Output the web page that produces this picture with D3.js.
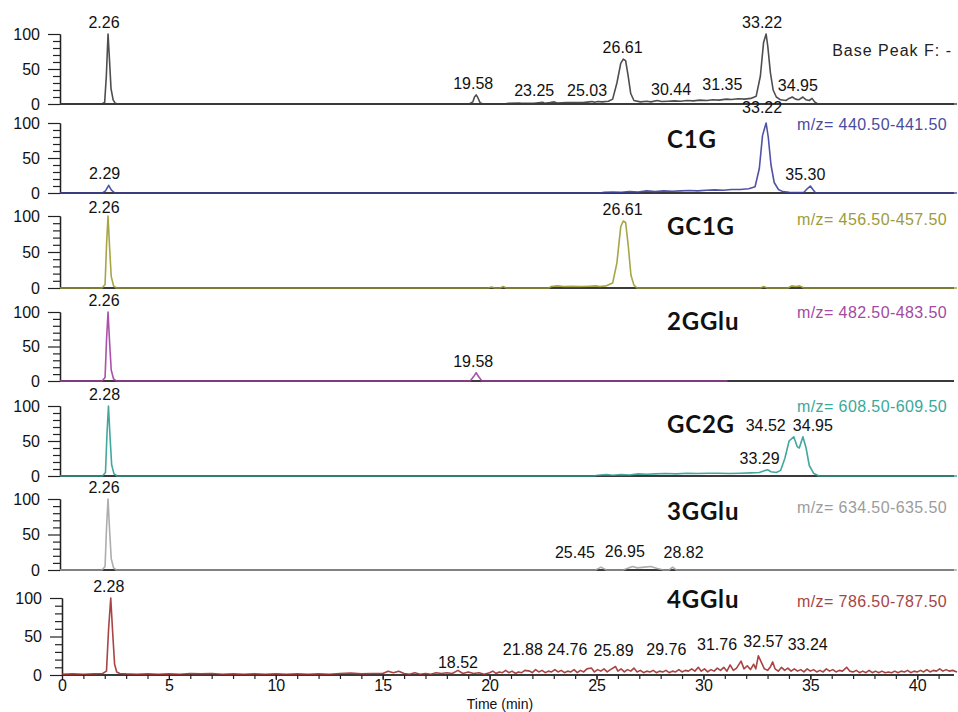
<!DOCTYPE html>
<html>
<head>
<meta charset="utf-8">
<script src="https://cdn.jsdelivr.net/npm/d3@7"></script>
<style>
  html, body { margin: 0; padding: 0; background: #fff; }
  svg { display: block; }
</style>
</head>
<body>
<svg id="chart" width="958" height="712"></svg>
<script>
// ---------- data: ion chromatograms, relative abundance (%) vs time (min) ----------
const traceNames = ["Base Peak", "C1G", "GC1G", "2GGlu", "GC2G", "3GGlu", "4GGlu"];
const compoundLabels = ["", "C1G", "GC1G", "2GGlu", "GC2G", "3GGlu", "4GGlu"];
const mzLabels = ["Base Peak F: -", "m/z= 440.50-441.50", "m/z= 456.50-457.50", "m/z= 482.50-483.50",
                  "m/z= 608.50-609.50", "m/z= 634.50-635.50", "m/z= 786.50-787.50"];
const timeWindowEnd = [42.2, 42.2, 42.2, 42.2, 42.2, 42.2, 41.86];
const xTickValues = [0, 5, 10, 15, 20, 25, 30, 35, 40];
const yTickValues = [0, 50, 100];
const xAxisTitle = "Time (min)";

const basePeak = [
  [0,0],[1.95,0],[2.1,2],[2.18,40],[2.26,100],[2.33,62],[2.4,22],[2.5,6],[2.6,1],[2.75,0],
  [19.25,0],[19.42,3],[19.5,10],[19.58,13],[19.66,9],[19.76,2],[19.9,0],
  [20.9,0],[21.1,1],[21.6,1.5],[21.7,1],[22.3,1],[22.7,2.5],[22.8,1],[23.05,2],[23.25,3],[23.4,1.5],
  [23.8,2],[24.2,2],[24.6,2],[24.9,3],[25.03,3.5],[25.15,2.5],[25.3,3.5],[25.5,3],[25.8,4],
  [26.0,7],[26.2,30],[26.38,58],[26.5,64],[26.61,62],[26.72,42],[26.85,15],[27.0,5],
  [27.3,3],[27.6,4],[27.8,3],[28.1,5],[28.3,3.5],[28.6,4],[28.9,4.5],[29.2,4],[29.5,5],
  [29.8,4.5],[30.1,5.5],[30.44,5],[30.7,6],[31.0,5.5],[31.35,7],[31.6,6.5],[31.9,7.5],[32.2,7],
  [32.5,8],[32.75,11],[32.95,40],[33.1,88],[33.22,100],[33.3,82],[33.42,45],[33.55,20],
  [33.7,10],[33.9,6],[34.15,5],[34.3,8],[34.45,10],[34.6,7],[34.75,6],[34.95,10],[35.1,6],
  [35.25,5],[35.38,8],[35.5,3],[35.65,0],[42.2,0]
];
const c1g = [
  [0,0],[2.0,0],[2.14,3],[2.29,11],[2.42,4],[2.58,0],
  [25.4,0],[25.6,1],[26.0,1.5],[26.4,1],[26.8,2],[27.2,1.5],[27.6,3],[28.0,2],[28.4,3],
  [28.8,2.5],[29.2,3],[29.6,3.5],[30.0,3],[30.4,4],[30.8,4.5],[31.2,4],[31.6,5],[32.0,5],
  [32.4,6],[32.7,9],[32.9,35],[33.05,82],[33.22,100],[33.32,80],[33.45,40],[33.6,15],
  [33.8,5],[34.0,2],[34.3,1],[34.7,0.5],[35.0,1],[35.15,6],[35.3,10],[35.42,5],[35.55,0],[42.2,0]
];
const gc1g = [
  [0,0],[1.98,0],[2.12,5],[2.19,60],[2.26,100],[2.33,58],[2.41,16],[2.52,3],[2.65,0],
  [20.15,0],[20.3,1.5],[20.45,0],[20.7,0],[20.85,2],[21.0,0],
  [23.0,0],[23.1,2],[23.4,3],[23.7,2],[24.1,2.5],[24.5,2],[24.9,2.5],[25.2,3],[25.4,2],
  [25.7,3],[26.0,7],[26.2,35],[26.38,85],[26.5,93],[26.61,91],[26.73,60],[26.86,18],
  [27.0,4],[27.15,0],[32.95,0],[33.1,2],[33.28,0],[34.25,0],[34.42,3],[34.62,2],[34.8,3],
  [35.0,0],[42.2,0]
];
const gglu2 = [
  [0,0],[1.98,0],[2.12,5],[2.19,60],[2.26,100],[2.33,58],[2.41,16],[2.52,3],[2.65,0],
  [19.3,0],[19.45,6],[19.58,12],[19.7,6],[19.85,0],[31.4,0]
];
const gc2g = [
  [0,0],[2.0,0],[2.14,5],[2.21,60],[2.28,100],[2.35,58],[2.43,16],[2.54,3],[2.68,0],
  [25.1,0],[25.3,1],[25.7,2],[26.0,1],[26.4,2],[26.8,1.5],[27.2,3],[27.6,2.5],[28.0,3],
  [28.5,3.5],[29.0,3],[29.5,4],[30.0,3.5],[30.5,4],[31.0,4],[31.5,3.5],[32.0,4],[32.5,4.5],
  [32.9,5],[33.1,7],[33.29,9],[33.45,6],[33.7,5],[33.9,8],[34.1,25],[34.3,50],[34.52,56],
  [34.68,42],[34.78,40],[34.95,56],[35.1,40],[35.25,15],[35.45,4],[35.7,0],[42.2,0]
];
const gglu3 = [
  [0,0],[1.98,0],[2.12,5],[2.19,60],[2.26,100],[2.33,58],[2.41,16],[2.52,3],[2.65,0],
  [25.2,0],[25.45,4],[25.7,0],[26.5,0],[26.75,3],[26.95,5],[27.15,3],[27.5,4],[27.8,5],
  [28.1,2],[28.4,0],[28.65,0],[28.82,4],[29.0,0],[42.2,0]
];
const gglu4 = [
  [0,1],[0.5,1.5],[1,1],[1.5,1.5],[1.9,2],[2.08,5],[2.18,60],[2.28,100],[2.37,55],[2.46,14],
  [2.56,4],[2.7,2],[3,1.5],[3.5,1],[4,1.5],[4.5,1],[5,1.5],[5.5,1],[6,2],[6.5,1.5],[7,2],
  [7.5,1],[8,1.5],[8.5,1],[9,1.5],[9.5,1],[10,1.5],[10.5,1],[11,1.5],[11.5,1],[12,1.5],
  [12.5,1],[13,2],[13.5,2.5],[14,1.5],[14.5,2],
  [15.0,2],[15.25,5],[15.5,3],[15.75,5],[16.0,2],[16.25,1],[16.5,3],[16.75,1],[17.0,2],
  [17.25,1],[17.5,3],[17.75,2],[18.0,3],[18.25,2],[18.52,6],[18.75,2],[19.0,4],[19.25,2],
  [19.5,3],[19.75,1],
  [20.0,3],[20.15,5],[20.3,2],[20.45,4],[20.6,3],[20.75,6],[20.9,3],[21.05,5],[21.2,2],
  [21.35,4],[21.5,3],[21.65,6],[21.88,5],[22.0,3],[22.15,7],[22.3,4],[22.45,6],[22.6,3],
  [22.75,5],[22.9,4],[23.05,7],[23.2,4],[23.35,6],[23.5,3],[23.65,5],[23.8,4],[23.95,7],
  [24.1,3],[24.25,6],[24.4,4],[24.55,8],[24.76,9],[24.9,4],[25.05,7],[25.2,5],[25.35,8],
  [25.5,4],[25.65,7],[25.89,11],[26.0,5],[26.15,8],[26.3,4],[26.45,7],[26.6,5],[26.75,9],
  [26.9,4],[27.05,6],[27.2,3],[27.35,5],[27.5,4],[27.65,6],[27.8,3],[27.95,5],[28.1,4],
  [28.25,6],[28.4,3],[28.55,5],[28.7,4],[28.85,7],[29.0,4],[29.15,6],[29.3,5],[29.45,8],
  [29.6,5],[29.76,10],[29.9,5],[30.05,8],[30.2,4],[30.35,7],[30.5,5],[30.65,9],[30.8,6],
  [30.95,10],[31.1,5],[31.25,13],[31.4,6],[31.55,9],[31.76,18],[31.9,8],[32.05,12],[32.2,7],
  [32.35,14],[32.45,8],[32.57,25],[32.7,17],[32.85,8],[33.0,6],[33.12,10],[33.24,17],[33.35,8],
  [33.5,5],[33.65,10],[33.8,6],[33.95,9],[34.1,5],[34.25,8],[34.4,5],[34.55,7],[34.7,4],
  [34.85,8],[35.0,5],[35.15,7],[35.3,4],[35.45,6],[35.6,4],[35.75,8],[35.9,5],[36.05,7],
  [36.2,4],[36.35,6],[36.5,5],[36.7,10],[36.85,5],[37.0,4],[37.15,6],[37.3,3],[37.45,5],
  [37.6,3],[37.75,6],[37.9,3],[38.05,5],[38.2,3],[38.35,5],[38.5,3],[38.65,4],[38.8,3],
  [38.95,5],[39.1,3],[39.25,5],[39.4,4],[39.55,6],[39.7,3],[39.85,5],[40.0,4],[40.15,6],
  [40.3,4],[40.45,7],[40.6,4],[40.75,6],[40.9,5],[41.05,8],[41.2,5],[41.35,7],[41.5,5],
  [41.65,6],[41.86,4]
];
const traces = [basePeak, c1g, gc1g, gglu2, gc2g, gglu3, gglu4];

// retention times written above peaks
const peakTimes = [
  [2.26, 19.58, 23.25, 25.03, 26.61, 30.44, 31.35, 33.22, 34.95],
  [2.29, 33.22, 35.30],
  [2.26, 26.61],
  [2.26, 19.58],
  [2.28, 33.29, 34.52, 34.95],
  [2.26, 25.45, 26.95, 28.82],
  [2.28, 18.52, 21.88, 24.76, 25.89, 29.76, 31.76, 32.57, 33.24]
];

// ---------- layout ----------
const panelZeroY = [104, 193, 288, 381, 476, 570, 675];
const panelFullY = [34, 123, 216, 312, 406, 499, 598];
const panelLeftX = [60, 60, 60, 60, 60, 60, 62];
const plotRightX = 957;
// per-label [dx, dy] offsets keeping neighbouring labels apart
const labelShift = [
  [[-4,0],[-3,0],[-20,0],[-5,0],[-3,0],[-36,0],[-4,-3],[-4,0],[-5,0]],
  [[-4,0],[-4,-4],[-5,0]],
  [[-4,3],[-3,0]],
  [[-4,0],[-3,0]],
  [[-4,0],[-8,0],[-28,0],[10,0]],
  [[-4,0],[-26,-3],[-8,-3],[11,-3]],
  [[-2,0],[0,4],[-7,-10],[-24,-7],[-2,-5],[-32,-6],[-24,-5],[5,-3],[35,-6]]
];
const traceColors = ["#3b3b3b", "#3d3f9c", "#9c9c33", "#a23ea2", "#2f9d93", "#a4a4a4", "#a03030"];
const mzColors = ["#222222", "#4a4c9e", "#9c9c3a", "#a24aa2", "#3aa89c", "#9c9c9c", "#a84444"];

const svg = d3.select("#chart");
const numFont = "'Liberation Sans', Arial, sans-serif";

traces.forEach((trace, i) => {
  const x = d3.scaleLinear().domain([0, timeWindowEnd[i]]).range([panelLeftX[i], plotRightX]);
  const y = d3.scaleLinear().domain([0, 100]).range([panelZeroY[i], panelFullY[i]]);
  const g = svg.append("g");

  // y axis: major ticks 0/50/100, minor every 10
  const yMinor = d3.axisLeft(y).tickValues(d3.range(10, 100, 10).filter(v => v !== 50))
    .tickSize(7).tickSizeOuter(0).tickFormat("");
  const yMajor = d3.axisLeft(y).tickValues(yTickValues).tickSize(12).tickSizeOuter(0).tickPadding(8);
  const ga = g.append("g").attr("transform", `translate(${panelLeftX[i]},0)`);
  ga.call(yMinor);
  ga.append("g").call(yMajor);
  ga.selectAll("path.domain").attr("stroke", "#222").attr("stroke-width", 1.3);
  ga.selectAll("line").attr("stroke", "#222").attr("stroke-width", 1.2);
  ga.selectAll("text").attr("font-family", numFont).attr("font-size", 16).attr("fill", "#111");

  // panel baseline
  g.append("line")
    .attr("x1", panelLeftX[i]).attr("x2", plotRightX - 3)
    .attr("y1", y(0)).attr("y2", y(0))
    .attr("stroke", "#3a3a3a").attr("stroke-width", 2);

  // chromatogram trace
  const line = d3.line().x(d => x(d[0])).y(d => y(d[1]));
  g.append("path").datum(trace)
    .attr("d", line)
    .attr("fill", "none")
    .attr("stroke", traceColors[i])
    .attr("stroke-opacity", 0.9)
    .attr("stroke-width", 1.6)
    .attr("stroke-linejoin", "round");

  // retention-time labels
  peakTimes[i].forEach((t, k) => {
    const near = trace.filter(d => Math.abs(d[0] - t) <= 0.15);
    const top = d3.max(near, d => d[1]) || 0;
    const s = labelShift[i][k];
    g.append("text")
      .attr("x", x(t) + s[0])
      .attr("y", y(top) - 6 + s[1])
      .attr("text-anchor", "middle")
      .attr("font-family", numFont)
      .attr("font-size", 16)
      .attr("fill", "#111")
      .text(t.toFixed(2));
  });

  // m/z range (or trace type) at the right
  g.append("text")
    .attr("x", i === 0 ? 952 : 947)
    .attr("y", [56, 130, 225, 318, 412, 513, 607][i])
    .attr("text-anchor", "end")
    .attr("font-family", numFont)
    .attr("font-size", 16)
    .attr("letter-spacing", i === 0 ? 1 : 0.4)
    .attr("fill", mzColors[i])
    .text(mzLabels[i]);

  // compound name
  if (compoundLabels[i]) {
    g.append("text")
      .attr("x", 667)
      .attr("y", [0, 148, 235, 330, 433, 520, 608][i])
      .attr("font-family", "Lato, 'Open Sans', sans-serif")
      .attr("font-weight", 700)
      .attr("font-size", 24)
      .attr("letter-spacing", 0.8)
      .attr("fill", "#111")
      .text(compoundLabels[i]);
  }

  // shared time axis under the last panel
  if (i === traces.length - 1) {
    const gx = g.append("g").attr("transform", `translate(0,${y(0)})`);
    gx.call(d3.axisBottom(x).tickValues(d3.range(0, 42, 1)).tickSize(4).tickSizeOuter(0).tickFormat(""));
    gx.append("g").call(d3.axisBottom(x).tickValues(xTickValues).tickSize(5).tickSizeOuter(0).tickPadding(0));
    gx.selectAll("path.domain").remove();
    gx.selectAll("line").attr("stroke", "#222").attr("stroke-width", 1.2);
    gx.selectAll("text").attr("font-family", numFont).attr("font-size", 16).attr("fill", "#111");
    svg.append("text")
      .attr("x", 500).attr("y", 709)
      .attr("text-anchor", "middle")
      .attr("font-family", numFont)
      .attr("font-size", 14)
      .attr("fill", "#111")
      .text(xAxisTitle);
  }
});
</script>
</body>
</html>
